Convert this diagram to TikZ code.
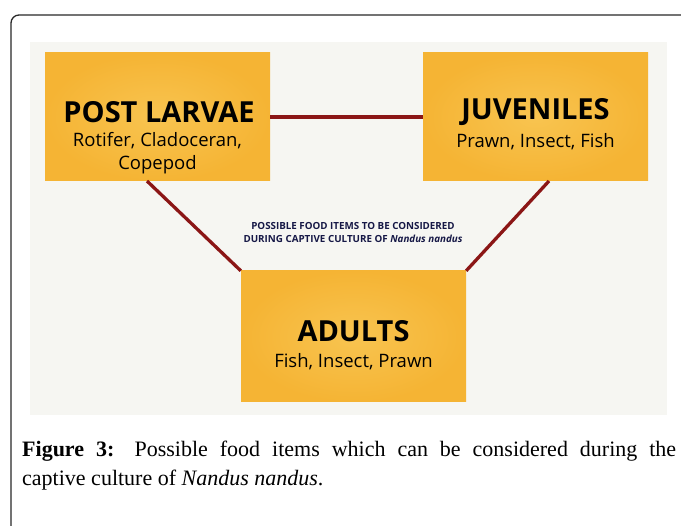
\documentclass[tikz,border=0pt]{standalone}
\usepackage{fontspec}
\setmainfont{Liberation Serif}
\newfontfamily\boxfont{Open Sans}
\definecolor{boxfill}{RGB}{245,180,52}
\definecolor{boxlight}{RGB}{248,196,80}
\definecolor{panelbg}{RGB}{246,246,242}
\definecolor{linkred}{RGB}{139,22,22}
\definecolor{navytext}{RGB}{22,24,70}
\definecolor{framegray}{RGB}{40,40,40}
\begin{document}
\begin{tikzpicture}[x=1pt,y=-1pt,
  stage/.style={rectangle, inner sep=0pt, minimum width=225pt, minimum height=128pt,
    inner color=boxlight, outer color=boxfill, align=center, font=\boxfont},
  link/.style={draw=linkred, line width=3.3pt},
  ttl/.style={font=\boxfont\bfseries\fontsize{29}{30}\selectfont},
  sub/.style={font=\boxfont\fontsize{18.5}{23}\selectfont, align=center}]
\useasboundingbox (0,0) rectangle (681,526);
\draw[framegray, line width=1.3pt, rounded corners=8pt] (11,560) -- (11,15) -- (720,15);
\fill[panelbg] (30,42) rectangle (667,415);
\node[stage] (pl) at (157.5,117) {};
\node[stage] (ju) at (535.5,117) {};
\node[stage, minimum height=131pt] (ad) at (353.5,336.5) {};
\node[ttl] (plt) at (159,112) {POST LARVAE};
\node[sub] (pls) at (157.5,153) {Rotifer, Cladoceran,\\Copepod};
\node[ttl] (jut) at (535.5,112) {JUVENILES};
\node[sub] (jus) at (535.5,142) {Prawn, Insect, Fish};
\node[ttl] (adt) at (353.5,331) {ADULTS};
\node[sub] (ads) at (353.5,362) {Fish, Insect, Prawn};
\node[font=\boxfont\bfseries\fontsize{9.8}{13}\selectfont, text=navytext, align=center] (ctr) at (353,232)
  {POSSIBLE FOOD ITEMS TO BE CONSIDERED\\DURING CAPTIVE CULTURE OF \textit{Nandus nandus}};
\draw[link] (pl.east) -- (ju.west);
\draw[link] (147,181) coordinate (a1) -- (ad.north west);
\draw[link] (549,181) coordinate (a2) -- (ad.north east);
\node[anchor=west, inner sep=0pt, text width=654pt, align=justify, font=\fontsize{22}{29}\selectfont] (cap) at (22,466)
  {\textbf{Figure 3:} Possible food items which can be considered during the\linebreak captive culture of \textit{Nandus nandus}.};
\end{tikzpicture}
\end{document}
